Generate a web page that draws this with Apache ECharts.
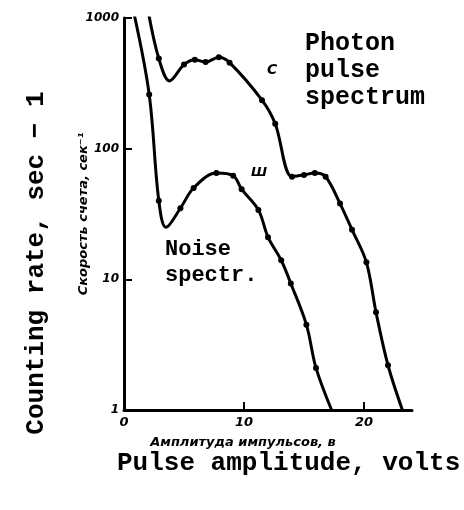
<!DOCTYPE html>
<html>
<head>
<meta charset="utf-8">
<script src="https://cdn.jsdelivr.net/npm/echarts@6/dist/echarts.min.js"></script>
<style>
  html, body { margin: 0; padding: 0; background: #fff; }
  #chart { width: 464px; height: 510px; }
</style>
</head>
<body>
<div id="chart"></div>
<script>
// 光子脉冲谱 (C) — 幅度(伏), 计数率(1/秒)
var photonVolts = [2.0, 2.9, 3.8, 5.0, 5.9, 6.8, 7.9, 8.8, 11.5, 12.6, 14.0, 15.0, 15.9, 16.8, 18.0, 19.0, 20.2, 21.0, 22.0, 23.2];
var photonRate = [1150, 490, 330, 440, 480, 460, 500, 455, 235, 155, 61, 63, 65, 61, 38, 24, 13.5, 5.6, 2.2, 1.0];
var photonNoDot = [0, 2, 19];

// 噪声谱 (Ш)
var noiseVolts = [0.8, 2.1, 2.9, 3.5, 4.7, 5.8, 7.7, 9.1, 9.8, 11.2, 12.0, 13.1, 13.9, 15.2, 16.0, 17.3];
var noiseRate = [1120, 260, 40, 25, 35, 50, 65, 62, 49, 34, 21, 14, 9.3, 4.5, 2.1, 1.0];
var noiseNoDot = [0, 3, 15];

var xTicks = [0, 10, 20];
var yTicks = [1, 10, 100, 1000];

var typeFont = '"Liberation Mono", "DejaVu Sans Mono", monospace';
var smallFont = '"DejaVu Sans", "Liberation Sans", sans-serif';

function toData(xs, ys) {
  return xs.map(function(x, i) {
    return [x, ys[i]];
  });
}

function curve(name, xs, ys, noDot) {
  return {
    name: name,
    type: 'line',
    smooth: 0.35,
    clip: true,
    data: toData(xs, ys),
    symbol: function(value, params) {
      return noDot.indexOf(params.dataIndex) >= 0 ? 'none' : 'circle';
    },
    symbolSize: 6,
    itemStyle: { color: '#000' },
    lineStyle: { color: '#000', width: 3 },
    animation: false,
  };
}

var option = {
  backgroundColor: '#fff',
  animation: false,
  grid: { left: 124, right: 52, top: 18, bottom: 100 },
  xAxis: {
    type: 'value',
    min: 0,
    max: 24,
    interval: 10,
    name: 'Амплитуда импульсов, в',
    nameLocation: 'middle',
    nameGap: 26,
    nameTextStyle: {
      fontFamily: smallFont, fontStyle: 'italic', fontWeight: 'bold', fontSize: 13, color: '#000',
      padding: [0, 50, 0, 0],
    },
    axisLine: { lineStyle: { color: '#000', width: 3 } },
    axisTick: { inside: true, length: 8, customValues: xTicks, lineStyle: { color: '#000', width: 2 } },
    axisLabel: {
      customValues: xTicks,
      fontFamily: smallFont, fontStyle: 'italic', fontWeight: 'bold', fontSize: 13, color: '#000', margin: 6,
    },
    splitLine: { show: false },
  },
  yAxis: {
    type: 'log',
    logBase: 10,
    min: 1,
    max: 1000,
    name: 'Скорость счета, сек⁻¹',
    nameLocation: 'middle',
    nameRotate: 90,
    nameGap: 34,
    nameMoveOverlap: false,
    nameTextStyle: { fontFamily: smallFont, fontStyle: 'italic', fontWeight: 'bold', fontSize: 13, color: '#000' },
    axisLine: { show: true, lineStyle: { color: '#000', width: 3 } },
    axisTick: { show: true, inside: true, length: 8, lineStyle: { color: '#000', width: 2 } },
    axisLabel: {
      fontFamily: smallFont, fontStyle: 'italic', fontWeight: 'bold', fontSize: 12, color: '#000', margin: 5,
      formatter: function(v) {
        return yTicks.indexOf(Math.round(v)) >= 0 ? String(Math.round(v)) : '';
      },
    },
    splitLine: { show: false },
  },
  series: [
    curve('Photon pulse spectrum', photonVolts, photonRate, photonNoDot),
    curve('Noise spectr.', noiseVolts, noiseRate, noiseNoDot),
  ],
  graphic: [
    {
      type: 'text', left: 305, top: 30,
      style: { text: 'Photon\npulse\nspectrum', font: 'bold 25px ' + typeFont, lineHeight: 27, fill: '#000' },
    },
    {
      type: 'text', left: 165, top: 236,
      style: { text: 'Noise\nspectr.', font: 'bold 22px ' + typeFont, lineHeight: 26, fill: '#000' },
    },
    {
      type: 'text', left: 267, top: 63,
      style: { text: 'C', font: 'italic bold 14px ' + smallFont, fill: '#000' },
    },
    {
      type: 'text', left: 251, top: 166,
      style: { text: 'Ш', font: 'italic bold 13px ' + smallFont, fill: '#000' },
    },
    {
      type: 'text', left: 117, top: 450,
      style: { text: 'Pulse amplitude, volts', font: 'bold 26px ' + typeFont, fill: '#000' },
    },
    {
      type: 'text', x: 36, y: 263, rotation: Math.PI / 2,
      style: { text: 'Counting rate, sec − 1', font: 'bold 26px ' + typeFont, fill: '#000', align: 'center', verticalAlign: 'middle' },
    },
  ],
};

var myChart = echarts.init(document.getElementById('chart'));
myChart.setOption(option);
</script>
</body>
</html>
